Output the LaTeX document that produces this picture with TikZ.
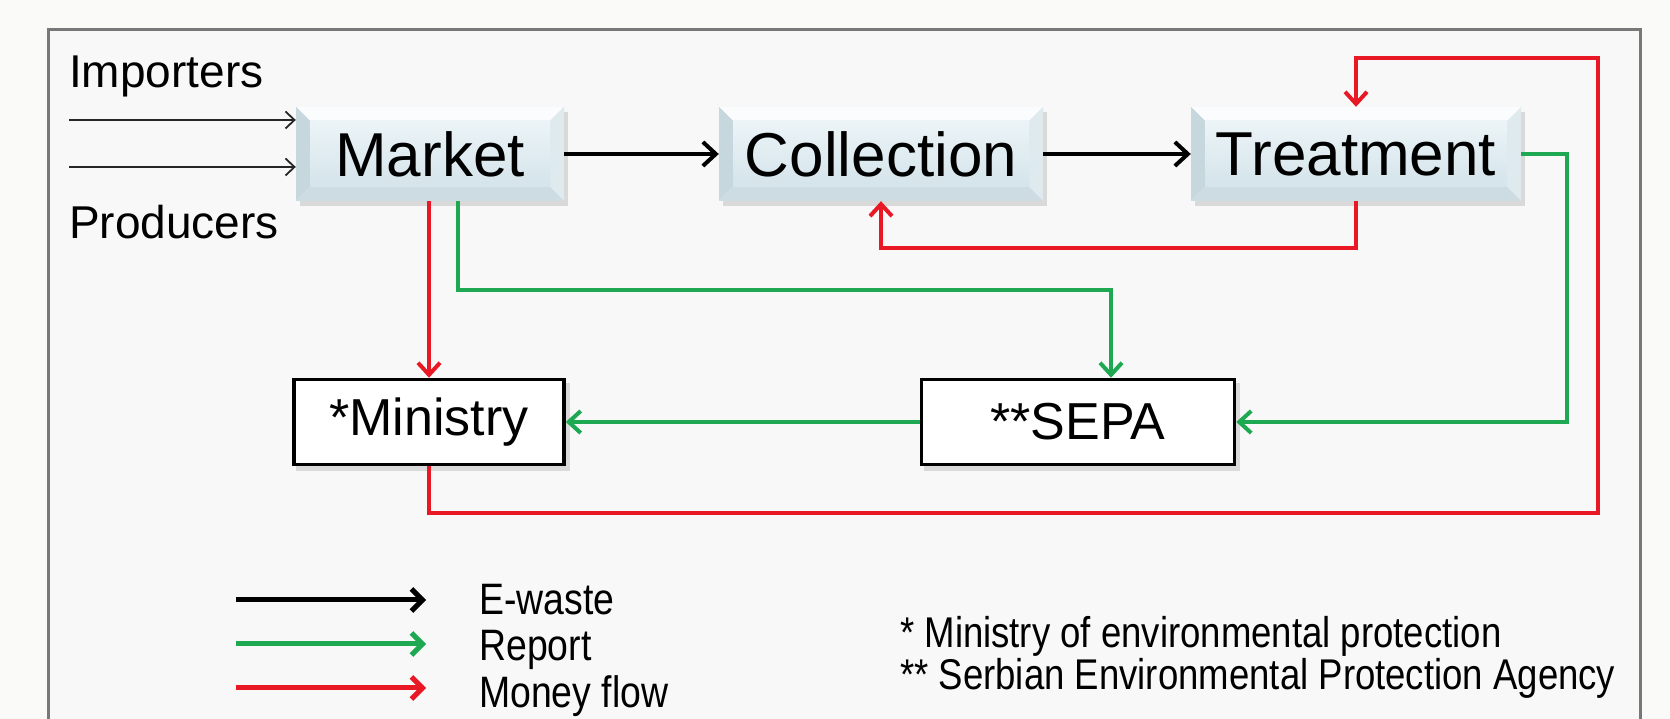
\documentclass[tikz,border=0pt]{standalone}
\usepackage{fontspec}
\setmainfont{Liberation Sans}
\newfontfamily\narrowf[FakeStretch=0.85]{Liberation Sans}
\usetikzlibrary{arrows.meta}
\definecolor{mred}{RGB}{232,24,36}
\definecolor{mgreen}{RGB}{30,168,82}
\definecolor{bgout}{RGB}{250,250,249}
\definecolor{bgin}{RGB}{248,248,248}
\definecolor{framegray}{RGB}{120,120,120}
\definecolor{facetop}{RGB}{236,244,247}
\definecolor{facebot}{RGB}{212,228,234}
\definecolor{bevtop}{RGB}{250,252,253}
\definecolor{bevleft}{RGB}{198,215,222}
\definecolor{bevright}{RGB}{222,234,238}
\definecolor{bevbot}{RGB}{204,220,226}
\pgfdeclarelayer{back}
\pgfdeclarelayer{shad}
\pgfsetlayers{back,shad,main}
\tikzset{
  bevelbox/.style={inner sep=0pt, fill=facetop,
    font=\fontsize{62}{70}\selectfont,
    path picture={
      \coordinate (pSW) at (path picture bounding box.south west);
      \coordinate (pNE) at (path picture bounding box.north east);
      \coordinate (pNW) at (pSW |- pNE);
      \coordinate (pSE) at (pNE |- pSW);
      \coordinate (iSW) at ([shift={(14pt,14pt)}]pSW);
      \coordinate (iNE) at ([shift={(-14pt,-14pt)}]pNE);
      \coordinate (iNW) at ([shift={(14pt,-14pt)}]pNW);
      \coordinate (iSE) at ([shift={(-14pt,14pt)}]pSE);
      \fill[bevtop] (pNW) -- (pNE) -- (iNE) -- (iNW) -- cycle;
      \fill[bevleft] (pNW) -- (iNW) -- (iSW) -- (pSW) -- cycle;
      \fill[bevright] (pNE) -- (pSE) -- (iSE) -- (iNE) -- cycle;
      \fill[bevbot] (pSW) -- (iSW) -- (iSE) -- (pSE) -- cycle;
      \shade[top color=facetop, bottom color=facebot] (iSW) rectangle (iNE);
    }},
  plainbox/.style={draw=black, line width=3.5pt, fill=white, inner sep=0pt,
    font=\fontsize{52}{60}\selectfont},
  sidetext/.style={inner sep=0pt, anchor=west, font=\fontsize{46}{52}\selectfont},
  legtext/.style={inner sep=0pt, anchor=west, font=\narrowf\fontsize{44}{50}\selectfont},
  foottext/.style={inner sep=0pt, anchor=west, font=\narrowf\fontsize{43}{50}\selectfont},
  ew/.style={draw=black, line width=4pt, -{Straight Barb[length=13pt,width=24pt]}},
  inarrow/.style={draw=black!85, line width=1.8pt, -{Straight Barb[length=9pt,width=17pt]}},
  money/.style={draw=mred, line width=4pt, -{Straight Barb[length=12pt,width=22pt]}},
  report/.style={draw=mgreen, line width=4pt, -{Straight Barb[length=12pt,width=22pt]}},
  legarrow/.style={line width=5pt, -{Straight Barb[length=11pt,width=22pt]}},
}
\begin{document}
\begin{tikzpicture}[x=1pt,y=1pt]
\useasboundingbox (0,0) rectangle (1670,719);
\begin{pgfonlayer}{back}
\fill[bgout] (0,0) rectangle (1670,719);
\fill[bgin] (48,-10) rectangle (1640,689);
\draw[framegray, line width=3pt] (48,-10) -- (48,689) -- (1640,689) -- (1640,-10);
\end{pgfonlayer}

% main nodes
\node[bevelbox, minimum width=268pt, minimum height=94pt] (market) at (430,565) {Market};
\node[bevelbox, minimum width=324pt, minimum height=94pt] (collection) at (881,565) {Collection};
\node[bevelbox, minimum width=330pt, minimum height=94pt] (treatment) at (1356,565) {Treatment};
\node[plainbox, minimum width=270pt, minimum height=85pt] (ministry) at (429,297) {*Ministry};
\node[plainbox, minimum width=313pt, minimum height=85pt] (sepa) at (1078,297) {**SEPA};

\begin{pgfonlayer}{shad}
\foreach \n in {market,collection,treatment,ministry,sepa}{
  \fill[black, opacity=0.12] ([shift={(4pt,-5pt)}]\n.south west) rectangle ([shift={(4pt,-5pt)}]\n.north east);
}
\end{pgfonlayer}

% side labels
\node[sidetext] (importers) at (69,643) {Importers};
\node[sidetext] (producers) at (69,497) {Producers};
\coordinate (in1) at (69,599);
\coordinate (in2) at (69,552);
\draw[inarrow] (in1) -- (in1 -| market.west);
\draw[inarrow] (in2) -- (in2 -| market.west);

% e-waste flow
\draw[ew] (market) -- (collection);
\draw[ew] (collection) -- (treatment);

% money flows
\draw[money] (ministry.north |- market.south) -- (ministry.north);
\coordinate (r1) at (0,471);
\draw[money] (treatment.south) |- (collection.south |- r1) -- (collection.south);
\coordinate (r2) at (1598,206);
\coordinate (r3) at (1598,661);
\draw[money] (ministry.south) |- (r2) -- (r3) -| (treatment.north);

% reports
\coordinate (g1) at (1111,429);
\draw[report] ([xshift=28pt]market.south) |- (g1) -- (g1 |- sepa.north);
\coordinate (g2) at (1567,0);
\draw[report] (treatment.east) -- (treatment.east -| g2) -- (g2 |- sepa.east) -- (sepa.east);
\draw[report] (sepa.west) -- (ministry.east);

% legend
\coordinate (l1) at (236,119); \coordinate (l1e) at (426,119);
\coordinate (l2) at (236,75);  \coordinate (l2e) at (426,75);
\coordinate (l3) at (236,31);  \coordinate (l3e) at (426,31);
\draw[legarrow, draw=black] (l1) -- (l1e);
\draw[legarrow, draw=mgreen] (l2) -- (l2e);
\draw[legarrow, draw=mred] (l3) -- (l3e);
\node[legtext] (lew) at (479,119) {E-waste};
\node[legtext] (lrep) at (479,69) {Report};
\node[legtext] (lmon) at (479,23) {Money flow};
\node[foottext] (fn1) at (900,83) {* Ministry of environmental protection};
\node[foottext] (fn2) at (900,41) {** Serbian Environmental Protection Agency};
\end{tikzpicture}
\end{document}
